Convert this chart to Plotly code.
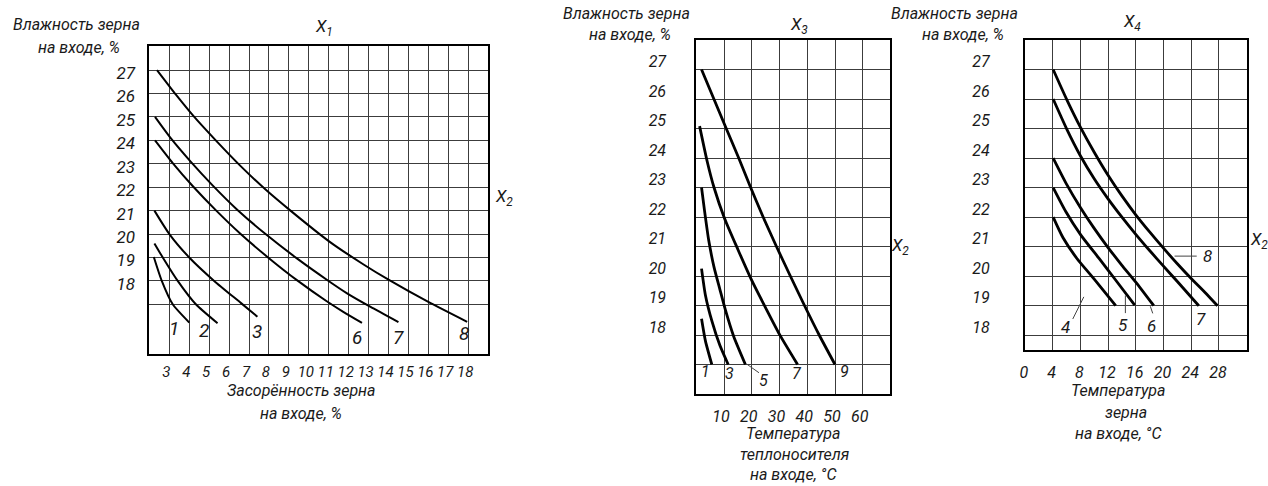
import plotly.graph_objects as go

# ---------------- data ----------------
# Panel X1: x = засорённость зерна на входе, %, y = влажность зерна на входе, %
p1_names = ["1", "2", "3", "6", "7", "8"]
p1_c1_x = [2.22, 2.62, 3.17, 4.0]
p1_c1_y = [19.02, 18.0, 17.0, 16.22]
p1_c2_x = [2.25, 2.67, 3.42, 4.33, 5.42]
p1_c2_y = [19.6, 19.0, 18.0, 17.0, 16.19]
p1_c3_x = [2.25, 3.0, 4.0, 5.25, 6.6, 7.42]
p1_c3_y = [21.0, 20.0, 19.0, 18.0, 17.05, 16.47]
p1_c6_x = [2.28, 3.17, 4.17, 5.33, 6.58, 8.0, 9.42, 10.9, 11.75, 12.67]
p1_c6_y = [24.0, 23.03, 22.05, 21.02, 20.0, 18.97, 18.02, 17.13, 16.67, 16.21]
p1_c7_x = [2.28, 3.08, 4.08, 5.17, 6.42, 7.83, 9.42, 10.92, 11.92, 13.08, 14.5]
p1_c7_y = [25.0, 24.08, 23.08, 22.08, 21.03, 20.0, 18.95, 18.04, 17.47, 16.9, 16.24]
p1_c8_x = [2.38, 3.33, 4.25, 5.33, 6.58, 7.83, 9.08, 11.0, 12.75, 14.0, 16.0, 17.95]
p1_c8_y = [27.0, 25.95, 25.0, 24.0, 22.9, 21.9, 21.0, 19.7, 18.7, 18.05, 17.1, 16.25]
p1_xticks = list(range(3, 19))
p1_ygrid = list(range(17, 28))
p1_ylabels = ["", "18", "19", "20", "21", "22", "23", "24", "25", "26", "27"]

# Panel X3: x = температура теплоносителя на входе, °С
p2_names = ["1", "3", "5", "7", "9"]
p2_c1_x = [1.9, 3.3, 5.6]
p2_c1_y = [18.55, 17.8, 17.0]
p2_c3_x = [1.9, 3.3, 5.7, 8.5, 11.5]
p2_c3_y = [20.25, 19.35, 18.45, 17.65, 17.0]
p2_c5_x = [1.9, 3.0, 4.5, 6.4, 8.5, 10.5, 13.5, 17.7]
p2_c5_y = [23.0, 22.2, 21.2, 20.3, 19.55, 18.85, 17.95, 17.0]
p2_c7_x = [1.2, 3.9, 6.4, 10.2, 15.0, 20.0, 25.0, 30.0, 36.5]
p2_c7_y = [25.08, 23.9, 23.0, 21.95, 20.9, 19.85, 18.92, 18.02, 17.0]
p2_c9_x = [1.9, 6.35, 10.8, 15.3, 19.6, 24.1, 28.9, 33.9, 39.0, 44.3, 50.0]
p2_c9_y = [27.0, 26.0, 25.0, 24.0, 23.0, 22.0, 21.0, 20.0, 19.0, 18.0, 17.0]
p2_xticks = [10, 20, 30, 40, 50, 60]
p2_ygrid = list(range(17, 28))
p2_ylabels = ["", "18", "19", "20", "21", "22", "23", "24", "25", "26", "27"]

# Panel X4: x = температура зерна на входе, °С
p3_names = ["4", "5", "6", "7", "8"]
p3_c4_x = [4.07, 5.5, 7.5, 10.0, 13.1]
p3_c4_y = [22.0, 21.3, 20.6, 19.9, 19.0]
p3_c5_x = [4.07, 5.89, 8.05, 10.7, 13.06, 15.85]
p3_c5_y = [23.0, 22.19, 21.4, 20.6, 19.88, 19.02]
p3_c6_x = [4.07, 6.0, 8.0, 10.0, 12.0, 14.0, 16.0, 18.6]
p3_c6_y = [24.0, 23.12, 22.33, 21.62, 20.97, 20.37, 19.8, 19.0]
p3_c7_x = [4.07, 6.0, 8.0, 10.0, 12.0, 14.0, 16.0, 18.0, 20.0, 22.0, 25.1]
p3_c7_y = [26.0, 25.0, 24.08, 23.3, 22.62, 22.0, 21.42, 20.87, 20.34, 19.82, 19.0]
p3_c8_x = [4.07, 6.0, 8.0, 10.0, 12.0, 14.0, 16.0, 18.0, 20.0, 22.0, 24.0, 26.0, 27.8]
p3_c8_y = [27.0, 26.0, 25.05, 24.2, 23.42, 22.72, 22.08, 21.5, 20.95, 20.42, 19.92, 19.45, 19.0]
p3_xticks = [0, 4, 8, 12, 16, 20, 24, 28]
p3_ygrid = list(range(18, 28))
p3_ylabels = ["18", "19", "20", "21", "22", "23", "24", "25", "26", "27"]

y_title = ["Влажность зерна", "на входе, %"]
p1_xtitle = ["Засорённость зерна", "на входе, %"]
p2_xtitle = ["Температура", "теплоносителя", "на входе, °С"]
p3_xtitle = ["Температура", "зерна", "на входе, °С"]

# ---------------- figure ----------------
W, H = 1268, 486
FAM = "Roboto, Liberation Sans, sans-serif"
INK = "#1a1a1a"


def fx(p):
    return p / W


def fy(p):
    return 1 - p / H


def tfont(size):
    return dict(family=FAM, size=size, color=INK, style="italic")


fig = go.Figure()

panels = [
    ("x", "y", 2.0,
     [(p1_c1_x, p1_c1_y), (p1_c2_x, p1_c2_y), (p1_c3_x, p1_c3_y),
      (p1_c6_x, p1_c6_y), (p1_c7_x, p1_c7_y), (p1_c8_x, p1_c8_y)]),
    ("x2", "y2", 2.8,
     [(p2_c1_x, p2_c1_y), (p2_c3_x, p2_c3_y), (p2_c5_x, p2_c5_y),
      (p2_c7_x, p2_c7_y), (p2_c9_x, p2_c9_y)]),
    ("x3", "y3", 2.8,
     [(p3_c4_x, p3_c4_y), (p3_c5_x, p3_c5_y), (p3_c6_x, p3_c6_y),
      (p3_c7_x, p3_c7_y), (p3_c8_x, p3_c8_y)]),
]
for xa, ya, lw, curves in panels:
    for cx, cy in curves:
        fig.add_trace(go.Scatter(x=cx, y=cy, xaxis=xa, yaxis=ya, mode="lines",
                                 line=dict(color="black", width=lw, shape="spline",
                                           smoothing=0.6),
                                 hoverinfo="skip", showlegend=False))

axis_common = dict(showgrid=True, gridcolor="#3c3c3c", gridwidth=1,
                   showline=True, mirror=True, linecolor="black", linewidth=2,
                   zeroline=False, ticks="", fixedrange=True, tickangle=0)

fig.update_layout(
    width=W, height=H, autosize=False,
    margin=dict(l=0, r=0, t=0, b=0),
    paper_bgcolor="white", plot_bgcolor="white", showlegend=False,
    xaxis=dict(axis_common, domain=[fx(145), fx(485)], range=[2, 19],
               tickvals=p1_xticks, tickfont=tfont(15), ticklabelstandoff=3,
               ticklabelshift=-3, anchor="y"),
    yaxis=dict(axis_common, domain=[fy(353.5), fy(45.5)], range=[14.9, 28.05],
               tickvals=p1_ygrid, ticktext=p1_ylabels, tickfont=tfont(17),
               ticklabelstandoff=9, ticklabelshift=3, anchor="x"),
    xaxis2=dict(axis_common, domain=[fx(694), fx(889)], range=[0, 70],
                tickvals=p2_xticks, tickfont=tfont(16), ticklabelstandoff=7,
                ticklabelshift=-3, anchor="y2"),
    yaxis2=dict(axis_common, domain=[fy(394), fy(40)], range=[16, 28],
                tickvals=p2_ygrid, ticktext=p2_ylabels, tickfont=tfont(16),
                ticklabelstandoff=25, ticklabelshift=-8, anchor="x2"),
    xaxis3=dict(axis_common, domain=[fx(1024), fx(1246.5)], range=[0, 32],
                tickvals=p3_xticks, tickfont=tfont(16), ticklabelstandoff=7,
                ticklabelshift=-1, anchor="y3"),
    yaxis3=dict(axis_common, domain=[fy(350), fy(40)], range=[17.5, 28],
                tickvals=p3_ygrid, ticktext=p3_ylabels, tickfont=tfont(16),
                ticklabelstandoff=30, ticklabelshift=-8, anchor="x3"),
)

ann = []


def paper_text(t, x, y, size=16):
    ann.append(dict(text=t, x=fx(x), y=fy(y), xref="paper", yref="paper",
                    showarrow=False, xanchor="center", yanchor="middle",
                    font=tfont(size)))


def data_text(t, x, y, xa, ya, size):
    ann.append(dict(text=t, x=x, y=y, xref=xa, yref=ya, showarrow=False,
                    xanchor="center", yanchor="middle", font=tfont(size)))


# headers (y-axis titles)
paper_text(y_title[0], 72, 24)
paper_text(y_title[1], 74, 47)
paper_text(y_title[0], 624, 14)
paper_text(y_title[1], 627, 35)
paper_text(y_title[0], 953, 14)
paper_text(y_title[1], 962, 35)

# factor names
paper_text("X<sub>1</sub>", 320, 28, 17)
paper_text("X<sub>2</sub>", 501, 197, 17)
paper_text("X<sub>3</sub>", 797, 25, 17)
paper_text("X<sub>2</sub>", 899, 246, 17)
paper_text("X<sub>4</sub>", 1131, 23, 17)
paper_text("X<sub>2</sub>", 1259, 240, 17)

# x-axis titles
paper_text(p1_xtitle[0], 298, 390)
paper_text(p1_xtitle[1], 297, 413)
paper_text(p2_xtitle[0], 792, 433)
paper_text(p2_xtitle[1], 793, 454)
paper_text(p2_xtitle[2], 792, 474)
paper_text(p3_xtitle[0], 1118, 390)
paper_text(p3_xtitle[1], 1125, 412)
paper_text(p3_xtitle[2], 1118, 433)

# curve labels
p1_lab_pos = [(3.25, 15.97), (4.75, 15.9), (7.42, 15.82), (12.43, 15.6), (14.5, 15.6), (17.77, 15.75)]
for n, (x, y) in zip(p1_names, p1_lab_pos):
    data_text(n, x, y, "x", "y", 19)
p2_lab_pos = [(3.3, 16.76), (12.0, 16.7), (24.3, 16.47), (36.3, 16.7), (53.6, 16.76)]
for n, (x, y) in zip(p2_names, p2_lab_pos):
    data_text(n, x, y, "x2", "y2", 16)
p3_lab_pos = [(5.9, 18.28), (14.1, 18.36), (18.2, 18.32), (25.4, 18.55), (26.4, 20.68)]
for n, (x, y) in zip(p3_names, p3_lab_pos):
    data_text(n, x, y, "x3", "y3", 17)

fig.update_layout(annotations=ann)

# leader lines
leaders = [
    ("x2", "y2", 18.4, 17.0, 22.6, 16.72),
    ("x3", "y3", 8.5, 19.3, 6.9, 18.55),
    ("x3", "y3", 14.5, 19.35, 14.5, 18.75),
    ("x3", "y3", 18.1, 18.98, 18.45, 18.74),
    ("x3", "y3", 21.6, 20.68, 24.8, 20.68),
]
for xa, ya, x0, y0, x1, y1 in leaders:
    fig.add_shape(type="line", xref=xa, yref=ya, x0=x0, y0=y0, x1=x1, y1=y1,
                  line=dict(color="#444", width=1))

fig.write_html("out.html")
